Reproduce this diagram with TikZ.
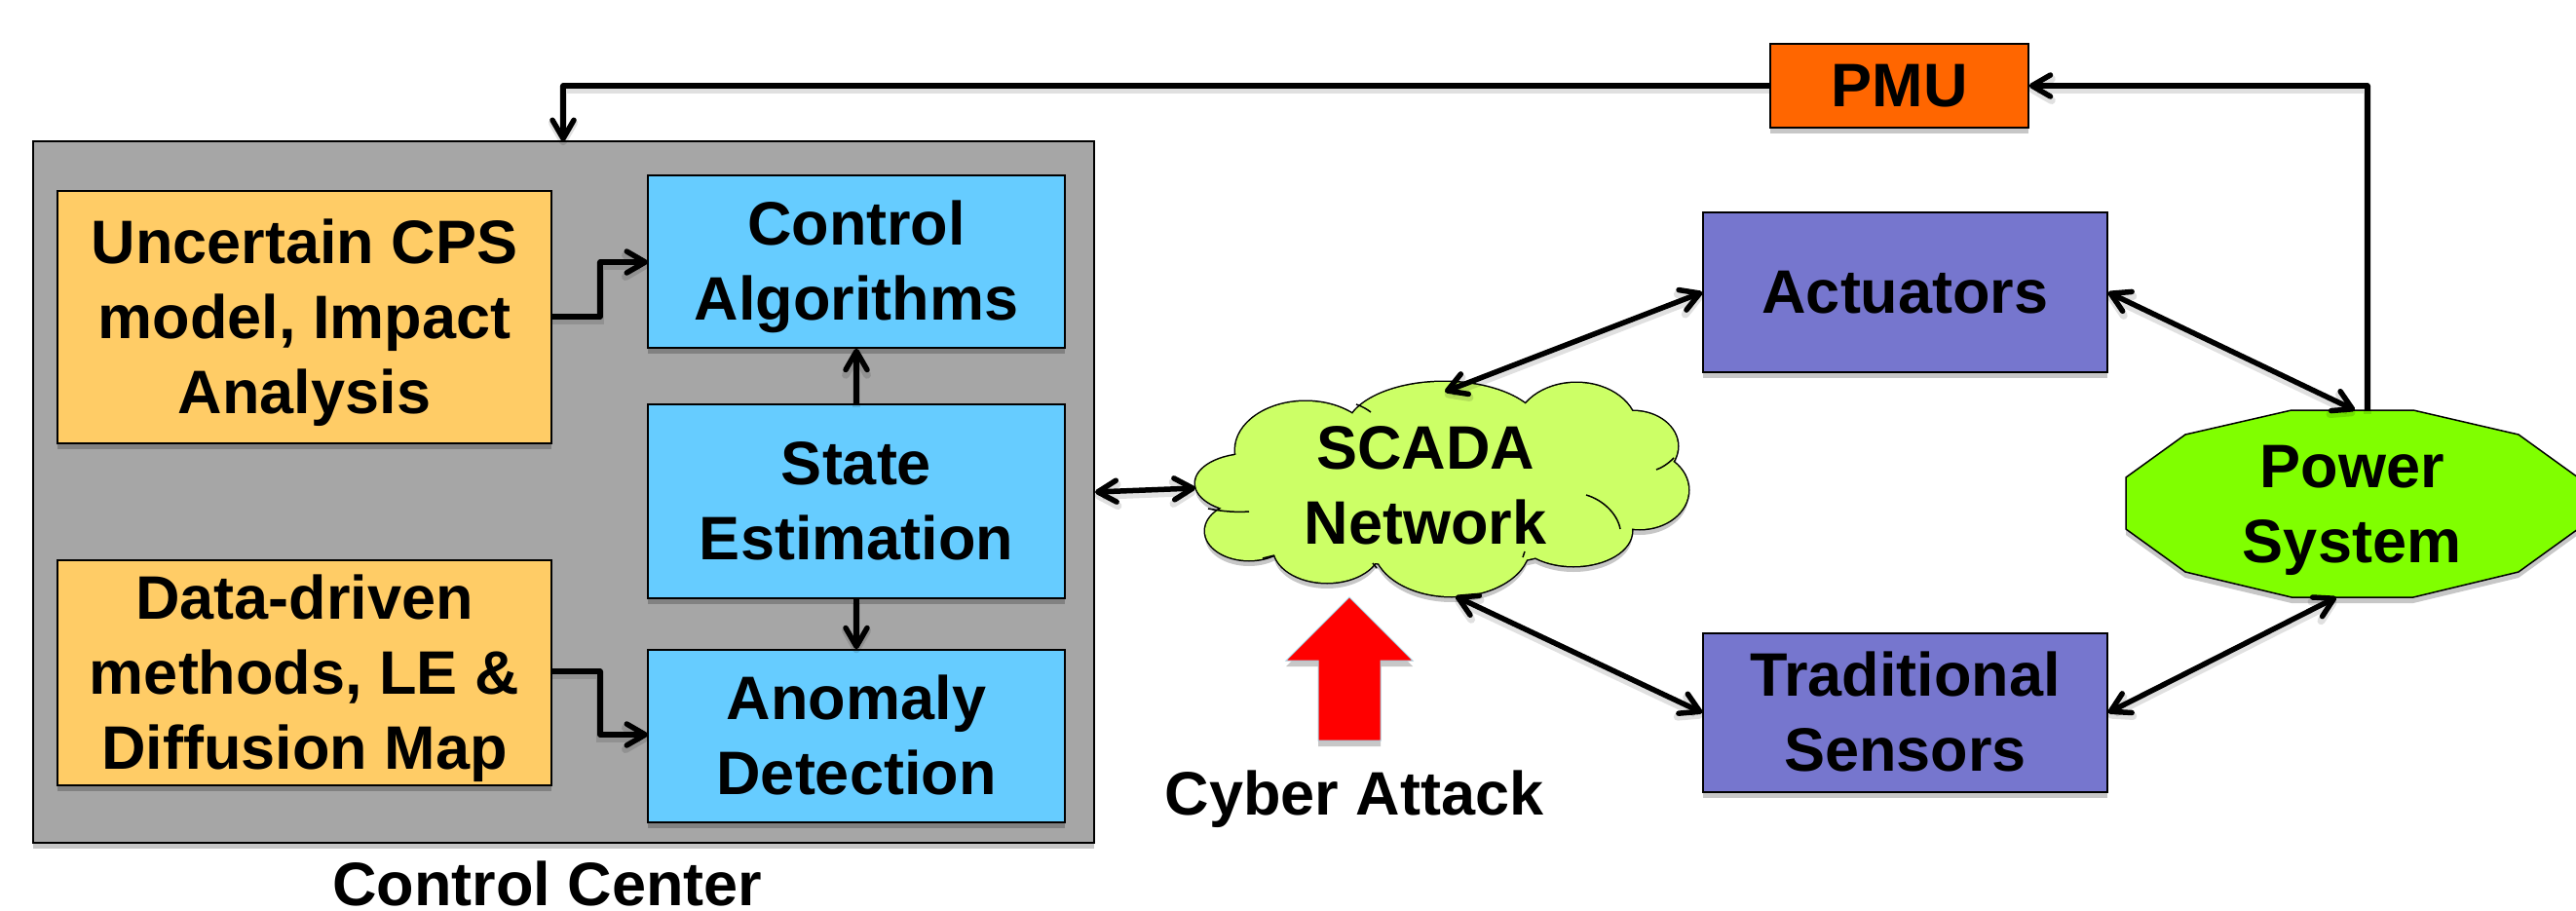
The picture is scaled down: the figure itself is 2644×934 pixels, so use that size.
\documentclass[tikz,border=0pt]{standalone}
\usepackage{fontspec}
\setmainfont{Liberation Sans}
\usetikzlibrary{arrows.meta,shadows}

\definecolor{ccgray}{RGB}{166,166,166}
\definecolor{inputorange}{RGB}{255,204,102}
\definecolor{procblue}{RGB}{102,204,255}
\definecolor{devpurple}{RGB}{118,118,206}
\definecolor{pmuorange}{RGB}{255,102,0}
\definecolor{gridgreen}{RGB}{128,255,0}
\definecolor{netgreen}{RGB}{204,255,102}
\definecolor{attackred}{RGB}{255,0,0}
\definecolor{attackedge}{RGB}{170,210,225}

% struts: first line gets the font's full ascent, last line its descent
\newcommand\txtTop{\rule{0pt}{0.905em}}
\newcommand\txtBot{\rule[-0.212em]{0pt}{0pt}}

% puffs of the SCADA cloud (their union is the cloud)
\newcommand\cloudpuffs{%
  (1283,496) ellipse [x radius=56, y radius=30]
  (1282,545) ellipse [x radius=45, y radius=30]
  (1362,562) ellipse [x radius=55, y radius=36]
  (1490,560) ellipse [x radius=80, y radius=52]
  (1615,545) ellipse [x radius=60, y radius=36]
  (1683,503) ellipse [x radius=50, y radius=40]
  (1676,458) ellipse [x radius=46, y radius=36]
  (1618,440) ellipse [x radius=62, y radius=47]
  (1482,442) ellipse [x radius=100, y radius=50]
  (1340,462) ellipse [x radius=72, y radius=50]
  (1480,505) ellipse [x radius=190, y radius=78]}

\begin{document}
\begin{tikzpicture}[x=1pt, y=-1pt,
  txt/.style={font=\fontsize{63}{77}\selectfont\bfseries, align=center,
    inner sep=0pt},
  boxshadow/.style={drop shadow={shadow xshift=0pt, shadow yshift=-6pt,
    opacity=0.22, fill=black}},
  box/.style={txt, draw=black, line width=1.5pt, boxshadow},
  conn/.style={line width=5.5pt, line join=round,
    preaction={draw=black, opacity=0.12, line width=8pt,
      transform canvas={yshift=-4pt}}},
  >={Straight Barb[length=19pt, width=22pt, round]},
]
% page
\fill[white] (0,0) rectangle (2644,934);
\useasboundingbox (0,0) rectangle (2644,934);

% control centre panel and its blocks
\node[draw=black, line width=2pt, fill=ccgray, boxshadow,
      minimum width=1089pt, minimum height=720pt] (cc) at (578.5,505) {};
\node[txt, anchor=base] (cclabel) at (562,929) {Control Center};

\node[box, fill=inputorange, minimum width=507pt, minimum height=259pt]
  (unc) at (312.5,325.5) {\txtTop Uncertain CPS\\model, Impact\\Analysis\txtBot};
\node[box, fill=inputorange, minimum width=507pt, minimum height=231pt]
  (dd) at (312.5,690.5) {\txtTop Data-driven\\methods, LE \&\\Diffusion Map\txtBot};
\node[box, fill=procblue, minimum width=428pt, minimum height=177pt]
  (ctrl) at (879,268.5) {\txtTop Control\\Algorithms\txtBot};
\node[box, fill=procblue, minimum width=428pt, minimum height=199pt]
  (est) at (879,514.5) {\txtTop State\\Estimation\txtBot};
\node[box, fill=procblue, minimum width=428pt, minimum height=177pt]
  (anom) at (879,755.5) {\txtTop Anomaly\\Detection\txtBot};

% field devices
\node[box, fill=pmuorange, minimum width=265pt, minimum height=86pt]
  (pmu) at (1949.5,88) {\txtTop PMU\txtBot};
\node[box, fill=devpurple, minimum width=415pt, minimum height=164pt]
  (act) at (1955.5,300) {\txtTop Actuators\txtBot};
\node[box, fill=devpurple, minimum width=415pt, minimum height=163pt]
  (trad) at (1955.5,731.5) {\txtTop Traditional\\Sensors\txtBot};

% power system (stretched dodecagon)
\path[fill=gridgreen, draw=black, line width=1.5pt, boxshadow]
  (2352,421) -- (2477,421) -- (2585,446) -- (2646,490) -- (2646,543)
  -- (2585,587) -- (2477,613) -- (2352,613) -- (2243,587) -- (2182,543)
  -- (2182,490) -- (2243,446) -- cycle;
\node[txt] (power) at (2414,517) {\txtTop Power\\System\txtBot};

% SCADA cloud
\begin{scope}[transparency group, opacity=0.22, yshift=-6pt]
  \fill[black] \cloudpuffs;
\end{scope}
\draw[black, line width=3pt] \cloudpuffs;
\fill[netgreen] \cloudpuffs;
\draw[black, line width=1.5pt]
  (1240,522) .. controls (1255,525) and (1270,526) .. (1282,525)
  (1392,415) .. controls (1398,417) and (1403,420) .. (1407,423)
  (1718,470) .. controls (1712,476) and (1706,480) .. (1700,482)
  (1628,508) .. controls (1645,513) and (1660,527) .. (1663,543)
  (1563,572) -- (1565,566)
  (1413,583) -- (1409,578)
  (1308,570) -- (1296,573);
\node[txt] (scada) at (1463,498) {\txtTop SCADA\\Network\txtBot};

% cyber attack
\path[fill=attackred, draw=attackedge, line width=1pt, boxshadow]
  (1385,613) -- (1450,678) -- (1417,678) -- (1417,760) -- (1353,760)
  -- (1353,678) -- (1320,678) -- cycle;
\node[txt] (attack) at (1390,815) {\txtTop Cyber Attack\txtBot};

% connector end points on unnamed outlines
\coordinate (ccN) at (578,145);
\coordinate (pwrFeed) at (2430,421);
\coordinate (pwrAct) at (2417,421);
\coordinate (pwrSen) at (2398,613);
\coordinate (cloudW) at (1227,501);
\coordinate (cloudN) at (1483,402);
\coordinate (cloudS) at (1494,612);
\coordinate (uncOut) at (566,325);
\coordinate (ddOut) at (566,689);
\coordinate (ctrlIn) at (665,269);
\coordinate (anomIn) at (665,754);

% connectors
\draw[conn,->] (pmu.west) -| (ccN);
\draw[conn,->] (pwrFeed) |- (pmu.east);
\draw[conn,<->] (cc.east) -- (cloudW);
\draw[conn,<->] (act.west) -- (cloudN);
\draw[conn,<->] (act.east) -- (pwrAct);
\draw[conn,<->] (cloudS) -- (trad.west);
\draw[conn,<->] (trad.east) -- (pwrSen);
\draw[conn,->] (uncOut) -- (616,325) |- (ctrlIn);
\draw[conn,->] (ddOut) -- (616,689) |- (anomIn);
\draw[conn,->] (est.north) -- (ctrl.south);
\draw[conn,->] (est.south) -- (anom.north);
\end{tikzpicture}
\end{document}
